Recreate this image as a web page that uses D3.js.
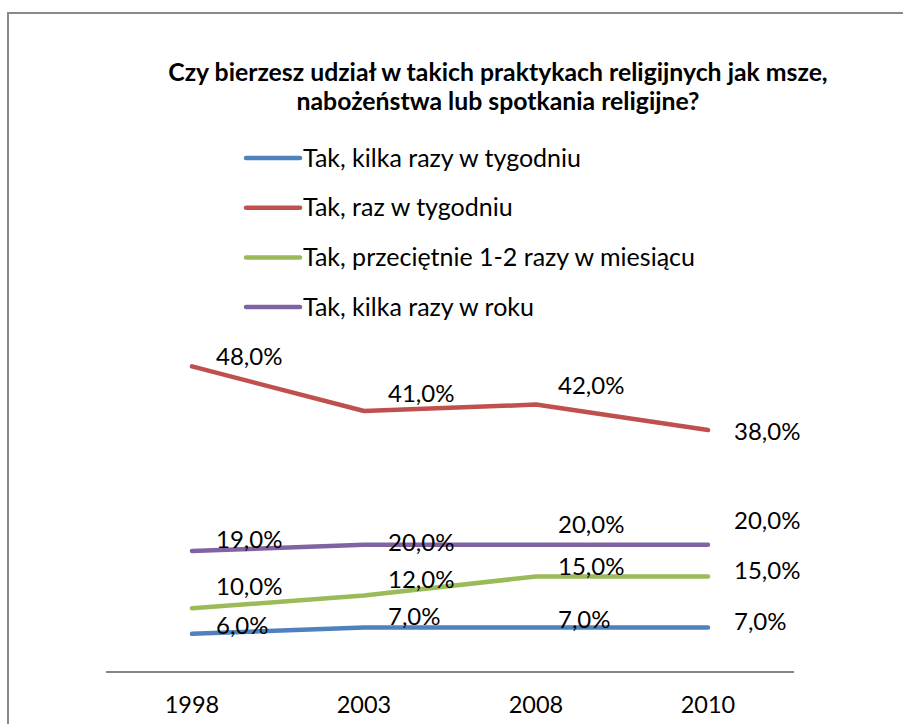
<!DOCTYPE html>
<html>
<head>
<meta charset="utf-8">
<script src="https://cdn.jsdelivr.net/npm/d3@7"></script>
<style>
  html, body { margin: 0; padding: 0; background: #fff; }
  svg { display: block; font-family: Lato, "Open Sans", sans-serif; }
</style>
</head>
<body>
<div id="chart"></div>
<script>
// data
var years = ["1998", "2003", "2008", "2010"];
var seriesNames = [
    "Tak, kilka razy w tygodniu",
    "Tak, raz w tygodniu",
    "Tak, przeciętnie 1-2 razy w miesiącu",
    "Tak, kilka razy w roku"
];
var kilkaTydz = [6, 7, 7, 7];
var razTydz = [48, 41, 42, 38];
var razMiesiac = [10, 12, 15, 15];
var kilkaRok = [19, 20, 20, 20];
var titleLines = [
    "Czy bierzesz udział w takich praktykach religijnych jak msze,",
    "nabożeństwa lub spotkania religijne?"
];

var colors = ["#4F81BD", "#C0504D", "#9BBB59", "#8064A2"];
// hand-placed label nudges (vertical), per series per year
var labelDy = [
    [-8, -11, -8, -6],
    [-10, -17, -19, 2],
    [-22, -16, -10, -6],
    [-11, -2, -20, -24]
];
var labelDx = [24, 24, 22, 26];

var W = 903, H = 724;
var svg = d3.select("#chart").append("svg")
    .attr("width", W).attr("height", H);

// chart border
svg.append("rect")
    .attr("x", 8).attr("y", 13)
    .attr("width", W).attr("height", H)
    .attr("fill", "none")
    .attr("stroke", "#8a8a8a")
    .attr("stroke-width", 2);

// title
svg.append("text")
    .attr("x", 498).attr("y", 72)
    .attr("text-anchor", "middle")
    .style("font-size", "24.8px")
    .style("font-weight", "700")
    .style("fill", "#000")
    .selectAll("tspan")
    .data(titleLines)
    .join("tspan")
    .attr("x", 498)
    .attr("dy", function(d, i) { return i === 0 ? "0.35em" : 29; })
    .text(function(d) { return d; });

var x = d3.scalePoint().domain(years).range([106, 794]).padding(0.5);
var y = d3.scaleLinear().domain([0, 60]).range([672, 290]);

var series = [kilkaTydz, razTydz, razMiesiac, kilkaRok].map(function(vals, i) {
    return { name: seriesNames[i], color: colors[i], values: vals, idx: i };
});

// legend
var legend = svg.append("g").selectAll("g")
    .data(series)
    .join("g")
    .attr("transform", function(d, i) { return "translate(246," + (158 + i * 49.7) + ")"; });
legend.append("line")
    .attr("x1", 0).attr("x2", 54)
    .attr("stroke", function(d) { return d.color; })
    .attr("stroke-width", 4.5)
    .attr("stroke-linecap", "round");
legend.append("text")
    .attr("x", 57).attr("dy", "0.35em")
    .style("font-size", "25px")
    .style("fill", "#000")
    .text(function(d) { return d.name; });

// x axis line + labels
svg.append("line")
    .attr("x1", 106).attr("x2", 794)
    .attr("y1", y(0)).attr("y2", y(0))
    .attr("stroke", "#868686")
    .attr("stroke-width", 2);

svg.append("g").selectAll("text")
    .data(years)
    .join("text")
    .attr("x", function(d) { return x(d); })
    .attr("y", 705)
    .attr("dy", "0.35em")
    .attr("text-anchor", "middle")
    .style("font-size", "23.5px")
    .style("fill", "#000")
    .text(function(d) { return d; });

var line = d3.line()
    .x(function(d, i) { return x(years[i]); })
    .y(function(d) { return y(d); });

var plot = svg.append("g");
plot.selectAll("path")
    .data(series)
    .join("path")
    .attr("d", function(d) { return line(d.values); })
    .attr("fill", "none")
    .attr("stroke", function(d) { return d.color; })
    .attr("stroke-width", 4.5)
    .attr("stroke-linecap", "round")
    .attr("stroke-linejoin", "round");

// data labels
var fmt = function(v) { return v.toFixed(1).replace(".", ",") + "%"; };
series.forEach(function(s) {
    plot.append("g").selectAll("text")
        .data(s.values)
        .join("text")
        .attr("x", function(d, i) { return x(years[i]) + labelDx[i]; })
        .attr("y", function(d, i) { return y(d) + labelDy[s.idx][i]; })
        .attr("dy", "0.35em")
        .style("font-size", "24px")
        .style("fill", "#000")
        .text(fmt);
});
</script>
</body>
</html>
